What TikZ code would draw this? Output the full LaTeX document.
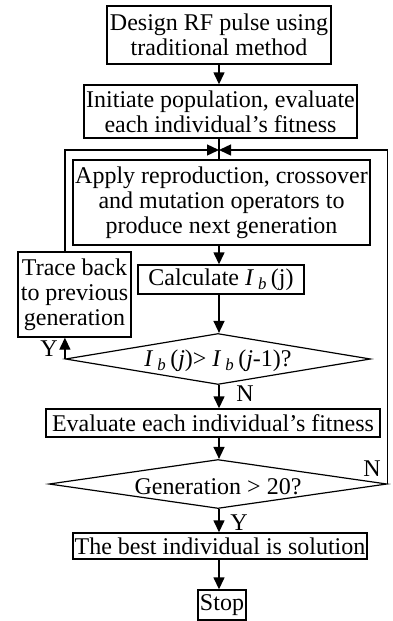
\documentclass[tikz,border=0pt]{standalone}
\usepackage{fontspec}
\setmainfont{Liberation Serif}
\usetikzlibrary{shapes.geometric,arrows.meta}
\newcommand{\Ib}{\textit{I}\,\textsubscript{\textit{b}}\,}
\begin{document}
\begin{tikzpicture}[x=1pt,y=-1pt,
  font=\fontsize{24}{25}\selectfont,
  every path/.style={line width=1.4pt},
  box/.style={draw,line width=1.4pt,inner sep=0pt,align=center},
  dia/.style={draw,diamond,line width=1.2pt,inner sep=0pt},
  arr/.style={-{Triangle[length=12pt,width=11pt]}}]
\useasboundingbox (0,0) rectangle (393,621);
\node[box,minimum width=224,minimum height=58] (b1) at (219,35) {Design RF pulse using\\traditional method};
\node[box,minimum width=273,minimum height=53] (b2) at (220.5,111.5) {Initiate population, evaluate\\each individual’s fitness};
\node[box,minimum width=297,minimum height=85] (b3) at (221.5,202.5) {Apply reproduction, crossover\\and mutation operators to\\produce next generation};
\node[box,minimum width=113,minimum height=85] (tr) at (74.5,294.5) {Trace back\\to previous\\generation};
\node[box,minimum width=166,minimum height=29] (calc) at (221,279.5) {Calculate \Ib(j)};
\node[dia,minimum width=305,minimum height=51] (d1) at (218,359) {};
\node at (218,361) {\Ib(\textit{j})> \Ib(\textit{j}-1)?};
\node[box,minimum width=334,minimum height=28] (ev) at (213,423) {Evaluate each individual’s fitness};
\node[dia,minimum width=338,minimum height=49] (d2) at (218,484) {};
\node at (218,487) {Generation > 20?};
\node[box,minimum width=294,minimum height=26] (best) at (220,546) {The best individual is solution};
\node[box,minimum width=48,minimum height=30] (stop) at (222,605) {Stop};
\coordinate (j) at (219,150);
\draw[arr] (b1.south -| 219,0) -- (b2.north -| 219,0);
\draw (b2.south -| j) -- (b3.north -| j);
\draw[arr] (tr.north -| d1.west) |- (j);
\draw[arr] (d2.east) |- (j);
\draw[arr] (b3.south -| 219,0) -- (calc.north -| 219,0);
\draw[arr] (calc.south -| 219,0) -- (d1.north -| 219,0);
\draw[arr] (d1.west) -- (tr.south -| d1.west);
\draw[arr] (d1.south -| 219,0) -- (ev.north -| 219,0);
\draw[arr] (ev.south -| 219,0) -- (d2.north -| 219,0);
\draw[arr] (d2.south -| 219,0) -- (best.north -| 219,0);
\draw[arr] (best.south -| 219,0) -- (stop.north -| 219,0);
\node (ly1) at (49,349) {Y};
\node (ln1) at (245,394) {N};
\node (ln2) at (372,469) {N};
\node (ly2) at (239,523) {Y};
\end{tikzpicture}
\end{document}
